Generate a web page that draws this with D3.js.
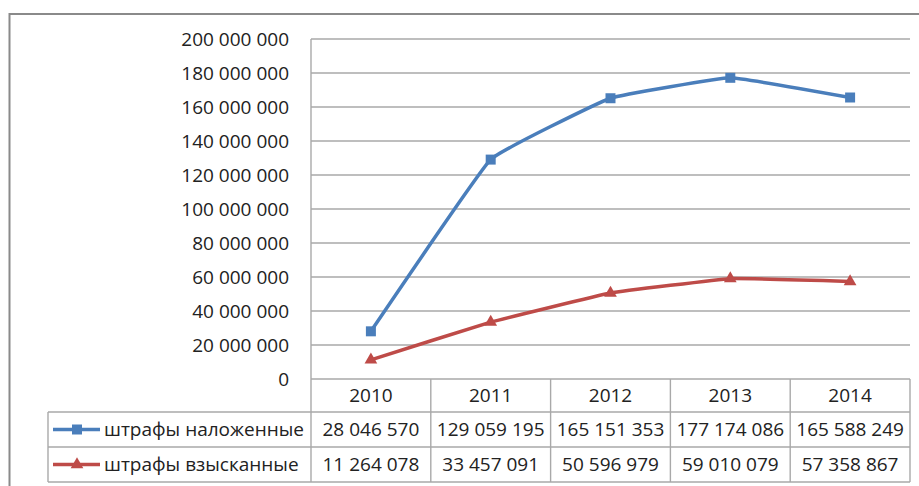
<!DOCTYPE html>
<html>
<head>
<meta charset="utf-8">
<script src="https://cdn.jsdelivr.net/npm/d3@7"></script>
<style>
  body { margin: 0; background: #fff; }
  svg { display: block; }
  text { font-family: "Open Sans", "Noto Sans", sans-serif; fill: #222; }
</style>
</head>
<body>
<div id="chart"></div>
<script>
// данные з картинки
var years = ["2010", "2011", "2012", "2013", "2014"];
var seriesNames = ["штрафы наложенные", "штрафы взысканные"];
var imposed = [28046570, 129059195, 165151353, 177174086, 165588249];
var collected = [11264078, 33457091, 50596979, 59010079, 57358867];
var colors = ["#4a7ebb", "#be4b48"];

var width = 919, height = 486;
var plot = {left: 311, right: 910, top: 39, bottom: 379};
var rows = [379, 412, 447, 482];   // межі рядків таблиці
var tableLeft = 48;
var gridColor = "#a9a9a9";

var ru = d3.formatLocale({decimal: ",", thousands: "\u00a0", grouping: [3], currency: ["", ""]});
var fmt = ru.format(",d");

var svg = d3.select("#chart").append("svg")
    .attr("width", width)
    .attr("height", height);

// зовнішня рамка (виходить за край картинки)
svg.append("rect")
    .attr("x", 9.5).attr("y", 14)
    .attr("width", 1000).attr("height", 1000)
    .attr("fill", "#fff")
    .attr("stroke", "#8a8a8a")
    .attr("stroke-width", 2);

var x = d3.scaleBand().domain(years).range([plot.left, plot.right]);
var y = d3.scaleLinear().domain([0, 200000000]).range([plot.bottom, plot.top]);
var cx = function(d) { return x(d) + x.bandwidth() / 2; };

// сітка
var ticks = y.ticks(10);
svg.append("g").selectAll("line")
    .data(ticks)
    .enter().append("line")
    .attr("x1", plot.left).attr("x2", plot.right)
    .attr("y1", function(d) { return y(d); })
    .attr("y2", function(d) { return y(d); })
    .attr("stroke", gridColor)
    .attr("stroke-width", 1.4);

svg.append("g").selectAll("text")
    .data(ticks)
    .enter().append("text")
    .attr("x", 289)
    .attr("y", function(d) { return y(d); })
    .attr("dy", "0.35em")
    .attr("text-anchor", "end")
    .style("font-size", "19px")
    .text(function(d) { return fmt(d); });

// вертикальна вісь + таблиця
var lines = svg.append("g")
    .attr("stroke", gridColor)
    .attr("stroke-width", 1.4);

lines.append("line")
    .attr("x1", plot.left).attr("x2", plot.left)
    .attr("y1", plot.top).attr("y2", rows[3]);

lines.selectAll(".col")
    .data(years)
    .enter().append("line")
    .attr("x1", function(d) { return x(d) + x.bandwidth(); })
    .attr("x2", function(d) { return x(d) + x.bandwidth(); })
    .attr("y1", rows[0]).attr("y2", rows[3]);

lines.selectAll(".row")
    .data(rows.slice(1))
    .enter().append("line")
    .attr("x1", tableLeft).attr("x2", plot.right)
    .attr("y1", function(d) { return d; })
    .attr("y2", function(d) { return d; });

lines.append("line")
    .attr("x1", tableLeft).attr("x2", tableLeft)
    .attr("y1", rows[1]).attr("y2", rows[3]);

// роки
svg.append("g").selectAll("text")
    .data(years)
    .enter().append("text")
    .attr("x", cx)
    .attr("y", (rows[0] + rows[1]) / 2)
    .attr("dy", "0.35em")
    .attr("text-anchor", "middle")
    .style("font-size", "19px")
    .text(function(d) { return d; });

var series = [imposed, collected];
var line = d3.line()
    .x(function(d, i) { return cx(years[i]); })
    .y(function(d) { return y(d); })
    .curve(d3.curveCardinal.tension(0.75));

var symbols = [d3.symbol().type(d3.symbolSquare).size(100),
               d3.symbol().type(d3.symbolTriangle).size(70)];

series.forEach(function(values, s) {
    svg.append("path")
        .datum(values)
        .attr("d", line)
        .attr("fill", "none")
        .attr("stroke", colors[s])
        .attr("stroke-width", 3.5)
        .attr("stroke-linejoin", "round");

    svg.append("g").selectAll("path")
        .data(values)
        .enter().append("path")
        .attr("transform", function(d, i) { return "translate(" + cx(years[i]) + "," + y(d) + ")"; })
        .attr("d", symbols[s])
        .attr("fill", colors[s]);

    // рядок таблиці
    var rowMid = (rows[s + 1] + rows[s + 2]) / 2;
    var g = svg.append("g");
    g.append("line")
        .attr("x1", 53).attr("x2", 100)
        .attr("y1", rowMid).attr("y2", rowMid)
        .attr("stroke", colors[s])
        .attr("stroke-width", 3.5);
    g.append("path")
        .attr("transform", "translate(77," + rowMid + ")")
        .attr("d", symbols[s])
        .attr("fill", colors[s]);
    g.append("text")
        .attr("x", 104)
        .attr("y", rowMid)
        .attr("dy", "0.35em")
        .style("font-size", "19px")
        .text(seriesNames[s]);

    g.selectAll(".val")
        .data(values)
        .enter().append("text")
        .attr("x", function(d, i) { return cx(years[i]); })
        .attr("y", rowMid)
        .attr("dy", "0.35em")
        .attr("text-anchor", "middle")
        .style("font-size", "19px")
        .text(function(d) { return fmt(d); });
});
</script>
</body>
</html>
